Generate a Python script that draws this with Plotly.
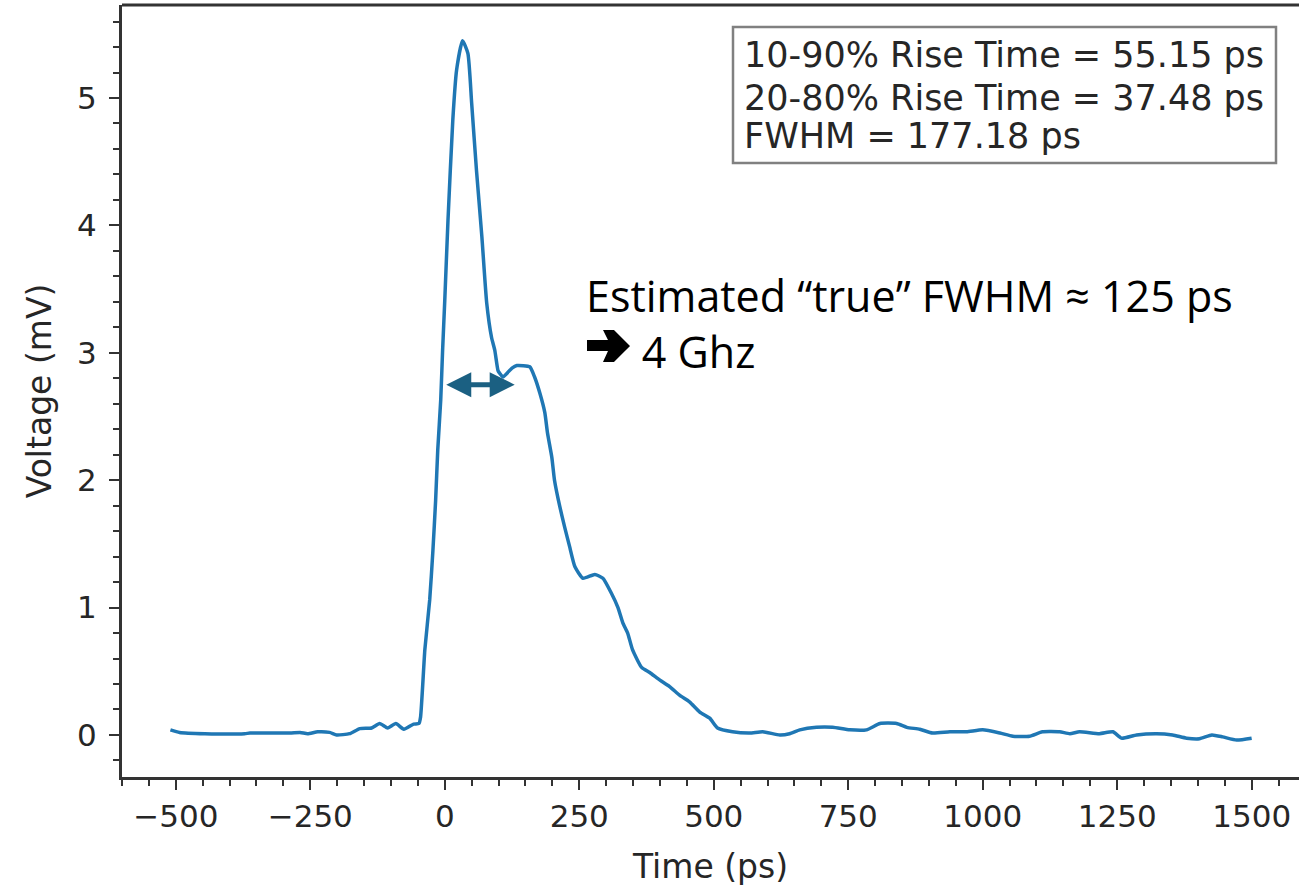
import plotly.graph_objects as go

# pulse waveform
time_ps = [-510, -493, -446, -372, -362, -288, -269, -255, -236, -214, -201, -177,
           -158, -136, -121, -106, -91, -76, -58, -48, -45, -37, -28, -22, -17, -13,
           -7.5, -4, 0, 6, 15, 22, 33, 43, 50, 59, 69, 78, 87, 93, 99, 102, 108,
           125, 134, 158, 167, 177, 186, 191, 199, 204, 214, 223, 232, 242, 257,
           279, 294, 310, 322, 331, 340, 349, 366, 381, 400, 418, 437, 455, 474,
           493, 507, 535, 567, 591, 623, 641, 660, 691, 721, 753, 784, 809, 840,
           859, 883, 907, 939, 970, 1000, 1032, 1056, 1087, 1111, 1143, 1162, 1180,
           1217, 1242, 1258, 1286, 1323, 1353, 1379, 1403, 1426, 1446, 1472, 1500]
voltage_mv = [0.04, 0.02, 0.01, 0.01, 0.015, 0.015, 0.02, 0.01, 0.025, 0.02, 0.0, 0.01,
              0.05, 0.055, 0.09, 0.055, 0.09, 0.045, 0.085, 0.09, 0.14, 0.67, 1.06, 1.45,
              1.84, 2.24, 2.63, 3.02, 3.41, 4.04, 4.83, 5.22, 5.45, 5.35, 4.96, 4.43,
              3.91, 3.39, 3.12, 3.02, 2.86, 2.84, 2.81, 2.88, 2.9, 2.89, 2.81, 2.68,
              2.53, 2.37, 2.18, 2.0, 1.79, 1.63, 1.48, 1.32, 1.23, 1.26, 1.23, 1.11,
              1.0, 0.88, 0.8, 0.67, 0.53, 0.49, 0.43, 0.38, 0.31, 0.26, 0.18, 0.13,
              0.055, 0.025, 0.015, 0.025, 0.0, 0.01, 0.04, 0.06, 0.06, 0.04, 0.04,
              0.09, 0.09, 0.06, 0.045, 0.015, 0.025, 0.025, 0.04, 0.015, -0.01, -0.01,
              0.025, 0.025, 0.01, 0.025, 0.01, 0.025, -0.025, 0.0, 0.01, 0.0, -0.025,
              -0.03, 0.0, -0.015, -0.04, -0.025]

stats_lines = ["10-90% Rise Time = 55.15 ps",
               "20-80% Rise Time = 37.48 ps",
               "FWHM = 177.18 ps"]
note_text = "Estimated \u201ctrue\u201d FWHM \u2248 125 ps"
note_result = "4 Ghz"

# estimated FWHM span (ps) and level (mV)
fwhm_start, fwhm_end, fwhm_level = 0, 130, 2.75

ink = "#262626"
spine = "#333333"
font = "DejaVu Sans"

W, H = 1299, 888
ML, MT, MB = 122, 5, 111


def px(x):   # pixel column -> paper x
    return (x - ML) / (W - ML)


def py(y):   # pixel row -> paper y
    return (H - MB - y) / (H - MB - MT)


fig = go.Figure()
fig.add_trace(go.Scatter(x=time_ps, y=voltage_mv, mode="lines",
                         line=dict(color="#1f77b4", width=3.5, shape="spline", smoothing=0.5),
                         showlegend=False))

fig.update_layout(
    width=W, height=H,
    margin=dict(l=ML, r=0, t=MT, b=MB, autoexpand=False),
    plot_bgcolor="white", paper_bgcolor="white",
    font=dict(family=font, color=ink, size=32),
)

fig.update_xaxes(
    range=[-600, 1588], tickvals=[-500, -250, 0, 250, 500, 750, 1000, 1250, 1500],
    automargin=False,
    showgrid=False, zeroline=False, showline=True, linecolor=spine, linewidth=3,
    ticks="outside", ticklen=10, tickwidth=2, tickcolor=spine,
    minor=dict(dtick=50, ticks="outside", ticklen=6, tickwidth=2, tickcolor=spine),
    tickfont=dict(size=31, family=font, color=ink),
    title=dict(text="Time (ps)", font=dict(size=33, family=font, color=ink), standoff=22),
)
fig.update_yaxes(
    range=[-0.33, 5.73], tickvals=[0, 1, 2, 3, 4, 5],
    automargin=False, ticklabelstandoff=6,
    showgrid=False, zeroline=False, showline=True, linecolor=spine, linewidth=3,
    ticks="outside", ticklen=10, tickwidth=2, tickcolor=spine,
    minor=dict(dtick=0.2, ticks="outside", ticklen=6, tickwidth=2, tickcolor=spine),
    tickfont=dict(size=31, family=font, color=ink),
    title=dict(text="Voltage (mV)", font=dict(size=33, family=font, color=ink), standoff=16),
)

# top spine only (the right one is cropped off in the original)
fig.add_shape(type="line", xref="paper", yref="paper", x0=0, x1=1, y0=1, y1=1,
              line=dict(color=spine, width=3))

# stats box
fig.add_shape(type="rect", xref="paper", yref="paper",
              x0=px(733), x1=px(1276), y0=py(163), y1=py(27),
              line=dict(color="#808080", width=2.5), fillcolor="white")
for yy, txt in zip([55, 98, 136], stats_lines):
    fig.add_annotation(xref="paper", yref="paper", x=px(742), y=py(yy), text=txt,
                       showarrow=False, xanchor="left", yanchor="middle",
                       font=dict(size=35, family=font, color=ink))

# note text, two lines in one block; second line leaves room for the arrow glyph
fig.add_annotation(xref="paper", yref="paper", x=px(584), y=py(323),
                   text=note_text + "<br>" + "\u00a0" * 5 + note_result,
                   showarrow=False, xanchor="left", yanchor="middle", align="left",
                   font=dict(size=43, family="Open Sans", color="black"))

# heavy black arrow glyph before "4 Ghz"
pts = [(587, 340), (608, 340), (603, 330), (614, 330), (630, 346),
       (614, 362), (603, 362), (608, 351), (587, 351)]
path = "M " + " L ".join(f"{px(a):.5f},{py(b):.5f}" for a, b in pts) + " Z"
fig.add_shape(type="path", xref="paper", yref="paper", path=path,
              fillcolor="black", line=dict(width=0))

# double-headed FWHM arrow
fig.add_annotation(x=fwhm_end, y=fwhm_level, ax=fwhm_start, ay=fwhm_level,
                   xref="x", yref="y", axref="x", ayref="y", text="",
                   showarrow=True, arrowhead=2, startarrowhead=2, arrowside="end+start",
                   arrowsize=1.0, startarrowsize=1.0, arrowwidth=5, arrowcolor="#1b6082")

fig.write_html("out.html", config={"displayModeBar": False},
               post_script="document.body.style.margin='0';")
